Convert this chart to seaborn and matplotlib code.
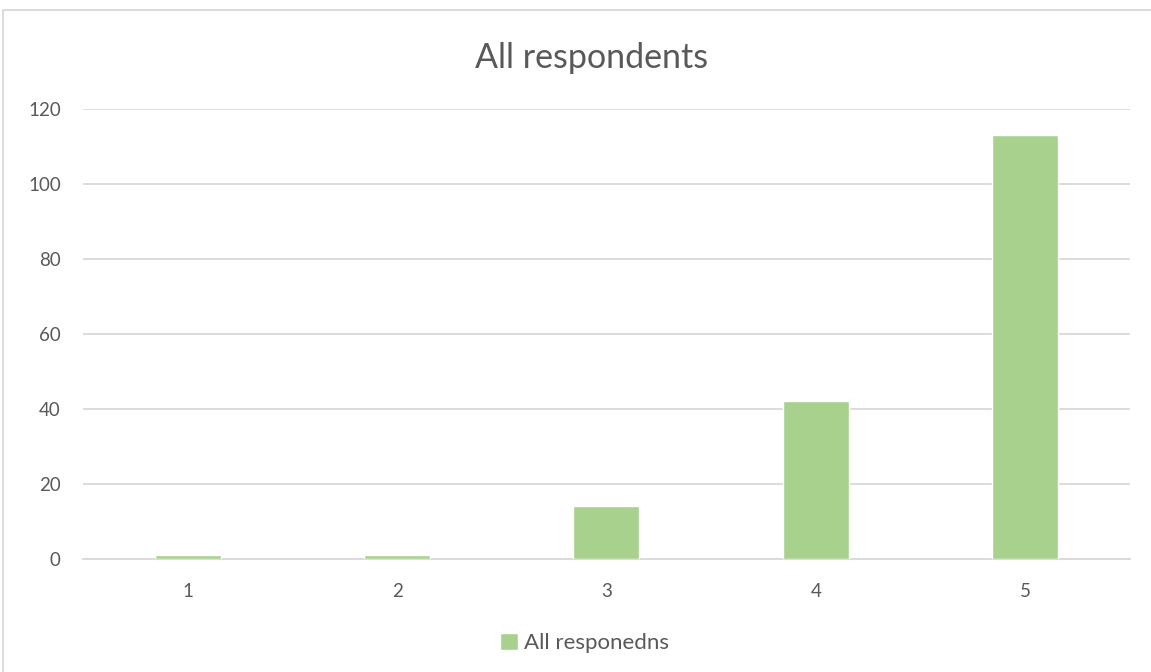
import pandas as pd
import seaborn as sns
import matplotlib.pyplot as plt
from matplotlib.patches import Rectangle

# Values
categories = ['1', '2', '3', '4', '5']
counts = [1, 1, 14, 42, 113]
y_ticks = [0, 20, 40, 60, 80, 100, 120]
series_name = 'All responedns'

df = pd.DataFrame({'score': categories, 'count': counts})

sns.set_style('white')
plt.rcParams['font.family'] = ['Lato', 'DejaVu Sans']

text_color = '#595959'
bar_color = '#A9D18E'

fig = plt.figure(figsize=(11.51, 6.72), dpi=100)
ax = fig.add_axes([0.0721, 0.1682, 0.9096, 0.6696])

sns.barplot(data=df, x='score', y='count', color=bar_color, width=0.315,
            saturation=1, label=series_name, ax=ax, zorder=3)

ax.set_ylim(0, 120)
ax.set_xlim(-0.5, 4.5)
ax.set_yticks(y_ticks)
ax.yaxis.grid(True, color='#D9D9D9', linewidth=1.3, zorder=0)
ax.set_axisbelow(True)
for s in ['top', 'right', 'left']:
    ax.spines[s].set_visible(False)
ax.spines['bottom'].set_color('#D9D9D9')
ax.spines['bottom'].set_linewidth(1.3)
ax.tick_params(axis='both', length=0, labelsize=13.5, colors=text_color)
ax.tick_params(axis='x', pad=17)
ax.tick_params(axis='y', pad=16)
ax.set_xlabel('')
ax.set_ylabel('')

fig.suptitle('All respondents', x=0.514, y=1 - 58 / 672, va='center',
             fontsize=24.5, color=text_color)

ax.legend(loc='center', bbox_to_anchor=(0.508, 0.043), bbox_transform=fig.transFigure,
          frameon=False, fontsize=16, handlelength=0.8, handleheight=0.8,
          handletextpad=0.3, labelcolor=text_color)

# outer chart border
fig.patches.append(Rectangle((3 / 1151, -0.01), 1.05, 1 - 10 / 672 + 0.01,
                             transform=fig.transFigure, fill=False,
                             edgecolor='#D9D9D9', linewidth=1.3))

fig.savefig('out.png', dpi=100)
